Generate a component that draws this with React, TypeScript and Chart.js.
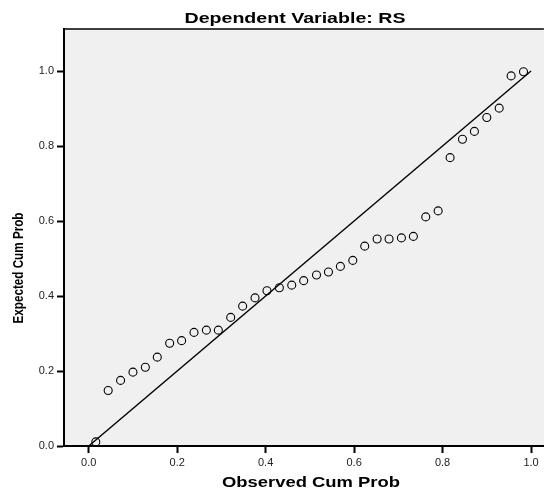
import React, { useEffect, useRef } from "react";
import { Chart, registerables } from "chart.js";

Chart.register(...registerables);

const chartTitle = "Dependent Variable: RS";
const xTitle = "Observed Cum Prob";
const yTitle = "Expected Cum Prob";

const observedCumProb = [
  0.016, 0.044, 0.072, 0.100, 0.128, 0.155, 0.183, 0.210, 0.238, 0.266, 0.293, 0.321,
  0.348, 0.376, 0.403, 0.431, 0.459, 0.486, 0.515, 0.542, 0.569, 0.597, 0.624, 0.652,
  0.679, 0.707, 0.734, 0.762, 0.790, 0.817, 0.845, 0.872, 0.900, 0.928, 0.955, 0.983,
];
const expectedCumProb = [
  0.011, 0.148, 0.175, 0.197, 0.210, 0.237, 0.274, 0.281, 0.303, 0.309, 0.309, 0.343,
  0.373, 0.395, 0.414, 0.422, 0.429, 0.441, 0.456, 0.464, 0.479, 0.495, 0.533, 0.552,
  0.552, 0.555, 0.559, 0.611, 0.627, 0.769, 0.818, 0.839, 0.876, 0.901, 0.987, 0.998,
];
const diagonalX = [0, 1];
const diagonalY = [0, 1];
const xTickValues = [0, 0.2, 0.4, 0.6, 0.8, 1.0];
const yTickValues = [0, 0.2, 0.4, 0.6, 0.8, 1.0];

const FONT = "'Liberation Sans', Arial, sans-serif";

const decorPlugin = {
  id: "decor",
  beforeDraw(chart: any) {
    const { ctx, chartArea } = chart;
    ctx.save();
    ctx.fillStyle = "#f0f0f0";
    ctx.fillRect(chartArea.left, chartArea.top, chartArea.right - chartArea.left, chartArea.bottom - chartArea.top);
    ctx.restore();
  },
  afterDraw(chart: any) {
    const { ctx, chartArea } = chart;
    ctx.save();
    // top frame line
    ctx.strokeStyle = "#000";
    ctx.lineWidth = 1.5;
    ctx.beginPath();
    ctx.moveTo(chartArea.left - 1, chartArea.top);
    ctx.lineTo(chartArea.right, chartArea.top);
    ctx.stroke();

    ctx.fillStyle = "#000";
    ctx.textAlign = "center";
    ctx.textBaseline = "middle";
    // main title
    ctx.font = `bold 14px ${FONT}`;
    let w = ctx.measureText(chartTitle).width;
    ctx.save();
    ctx.translate(295, 19);
    ctx.scale(221 / w, 1);
    ctx.fillText(chartTitle, 0, 0);
    ctx.restore();
    // x title
    ctx.font = `bold 15px ${FONT}`;
    w = ctx.measureText(xTitle).width;
    ctx.save();
    ctx.translate(311, 483);
    ctx.scale(178 / w, 1);
    ctx.fillText(xTitle, 0, 0);
    ctx.restore();
    // y title
    ctx.font = `bold 14px ${FONT}`;
    w = ctx.measureText(yTitle).width;
    ctx.save();
    ctx.translate(19.5, 268);
    ctx.rotate(-Math.PI / 2);
    ctx.scale(111 / w, 1);
    ctx.fillText(yTitle, 0, 0);
    ctx.restore();
    ctx.restore();
  },
};

export default function App() {
  const canvasRef = useRef<HTMLCanvasElement>(null);

  useEffect(() => {
    document.body.style.margin = "0";
    const canvas = canvasRef.current!;
    const chart = new Chart(canvas, {
      type: "scatter",
      data: {
        datasets: [
          {
            type: "line",
            data: diagonalX.map((x, i) => ({ x, y: diagonalY[i] })),
            borderColor: "#000",
            borderWidth: 1.4,
            pointRadius: 0,
            fill: false,
          } as any,
          {
            data: observedCumProb.map((x, i) => ({ x, y: expectedCumProb[i] })),
            pointStyle: "circle",
            pointRadius: 4,
            pointBorderWidth: 1.1,
            borderColor: "#000",
            backgroundColor: "rgba(0,0,0,0)",
            pointBackgroundColor: "rgba(0,0,0,0)",
          } as any,
        ],
      },
      plugins: [decorPlugin],
      options: {
        animation: false,
        responsive: false,
        devicePixelRatio: 1,
        layout: { padding: { top: 29, left: 0, right: 0, bottom: 0 } },
        plugins: {
          legend: { display: false },
          title: { display: false },
          tooltip: { enabled: false },
        },
        scales: {
          x: {
            type: "linear",
            min: -0.0559,
            max: 1.0291,
            afterBuildTicks: (scale: any) => {
              scale.ticks = xTickValues.map((v) => ({ value: v }));
            },
            afterFit: (scale: any) => {
              scale.height = 44;
            },
            grid: {
              drawOnChartArea: false,
              drawTicks: true,
              tickLength: 7,
              tickWidth: 2,
              tickColor: "#000",
            },
            border: { display: true, color: "#000", width: 2 },
            ticks: {
              padding: 3,
              color: "#222",
              font: { family: FONT, size: 11 },
              callback: (v: any) => Number(v).toFixed(1),
              maxRotation: 0,
            },
          },
          y: {
            type: "linear",
            min: 0,
            max: 1.112,
            afterBuildTicks: (scale: any) => {
              scale.ticks = yTickValues.map((v) => ({ value: v }));
            },
            afterFit: (scale: any) => {
              scale.width = 64;
            },
            grid: {
              drawOnChartArea: false,
              drawTicks: true,
              tickLength: 7,
              tickWidth: 2,
              tickColor: "#000",
            },
            border: { display: true, color: "#000", width: 2 },
            ticks: {
              padding: 3,
              color: "#222",
              font: { family: FONT, size: 11 },
              callback: (v: any) => Number(v).toFixed(1),
            },
          },
        },
      },
    });
    return () => chart.destroy();
  }, []);

  return (
    <div style={{ position: "absolute", left: 0, top: 0, width: 549, height: 490 }}>
      <canvas ref={canvasRef} width={549} height={490} style={{ width: 549, height: 490 }} />
    </div>
  );
}
